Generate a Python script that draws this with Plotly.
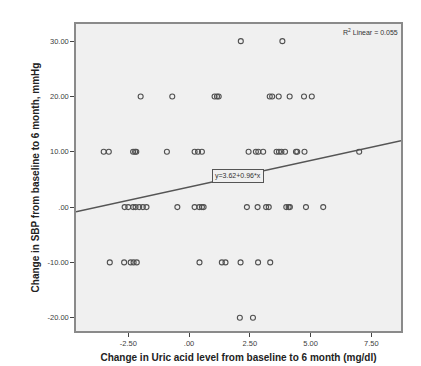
import plotly.graph_objects as go

# Data
uric_change = [
    2.13, 3.84,
    -1.99, -0.69, 1.05, 1.15, 1.22, 3.32, 3.42, 3.69, 4.14, 4.73, 5.05,
    -3.51, -3.30, -2.30, -2.22, -2.17, -0.91, 0.23, 0.37, 0.53, 2.45, 2.75, 2.85,
    3.05, 3.60, 3.70, 3.80, 3.95, 4.40, 4.45, 4.75, 7.00,
    -2.65, -2.50, -2.30, -2.20, -2.05, -1.90, -1.75, -0.48, 0.23, 0.42, 0.53, 0.60,
    2.38, 2.82, 3.17, 3.28, 4.00, 4.10, 4.15, 4.81, 5.52,
    -3.26, -2.67, -2.40, -2.28, -2.15, 0.43, 1.35, 1.50, 2.12, 2.84, 3.34,
    2.09, 2.63,
]
sbp_change = (
    [30] * 2 + [20] * 11 + [10] * 21 + [0] * 21 + [-10] * 11 + [-20] * 2
)

fit_intercept = 3.62
fit_slope = 0.96
r2_linear = 0.055

x_range = [-4.65, 8.72]
y_range = [-22.4, 33.1]
x_tickvals = [-2.5, 0, 2.5, 5, 7.5]
x_ticktext = ["-2.50", ".00", "2.50", "5.00", "7.50"]
y_tickvals = [-20, -10, 0, 10, 20, 30]
y_ticktext = ["-20.00", "-10.00", ".00", "10.00", "20.00", "30.00"]

FONT = "Liberation Sans, Arial, sans-serif"

fig = go.Figure()

fit_x = x_range
fit_y = [fit_intercept + fit_slope * v for v in fit_x]
fig.add_trace(go.Scatter(
    x=fit_x, y=fit_y, mode="lines",
    line=dict(color="#555555", width=1.3), hoverinfo="skip", showlegend=False,
))

fig.add_trace(go.Scatter(
    x=uric_change, y=sbp_change, mode="markers",
    marker=dict(symbol="circle-open", size=5, color="#505050", line=dict(width=1.1)),
    showlegend=False,
))

label_x = 2.03
fig.add_annotation(
    x=label_x, y=fit_intercept + fit_slope * label_x, xref="x", yref="y",
    text=f"y={fit_intercept:.2f}+{fit_slope:.2f}*x", showarrow=False,
    font=dict(family=FONT, size=7, color="#333333"),
    bgcolor="#F0F0F0", bordercolor="#555555", borderwidth=1, borderpad=2,
)
fig.add_annotation(
    x=1, y=1, xref="paper", yref="paper", xanchor="right", yanchor="top",
    xshift=-1, yshift=-2,
    text=f"R<sup>2</sup> Linear = {r2_linear:.3f}", showarrow=False,
    font=dict(family=FONT, size=7, color="#333333"),
)

axis_common = dict(
    showgrid=False, zeroline=False, showline=True, mirror=True,
    linecolor="#8a8a8a", linewidth=1.5,
    ticks="outside", ticklen=4, tickcolor="#444444", tickwidth=1,
    tickfont=dict(family=FONT, size=7.5, color="#404040"),
)

fig.update_xaxes(
    range=x_range, tickmode="array", tickvals=x_tickvals, ticktext=x_ticktext,
    title=dict(text="<b>Change in Uric acid level from baseline to 6 month (mg/dl)</b>",
               font=dict(family=FONT, size=10, color="#222222"),
               standoff=7),
    **axis_common,
)
fig.update_yaxes(
    range=y_range, tickmode="array", tickvals=y_tickvals, ticktext=y_ticktext,
    title=dict(text="<b>Change in SBP from baseline to 6 month, mmHg</b>",
               font=dict(family=FONT, size=10, color="#222222"),
               standoff=6),
    **axis_common,
)

fig.update_layout(
    width=421, height=366,
    margin=dict(l=68, r=28, t=16, b=43, autoexpand=False),
    plot_bgcolor="#F0F0F0", paper_bgcolor="#FFFFFF",
)

fig.write_html("out.html")
